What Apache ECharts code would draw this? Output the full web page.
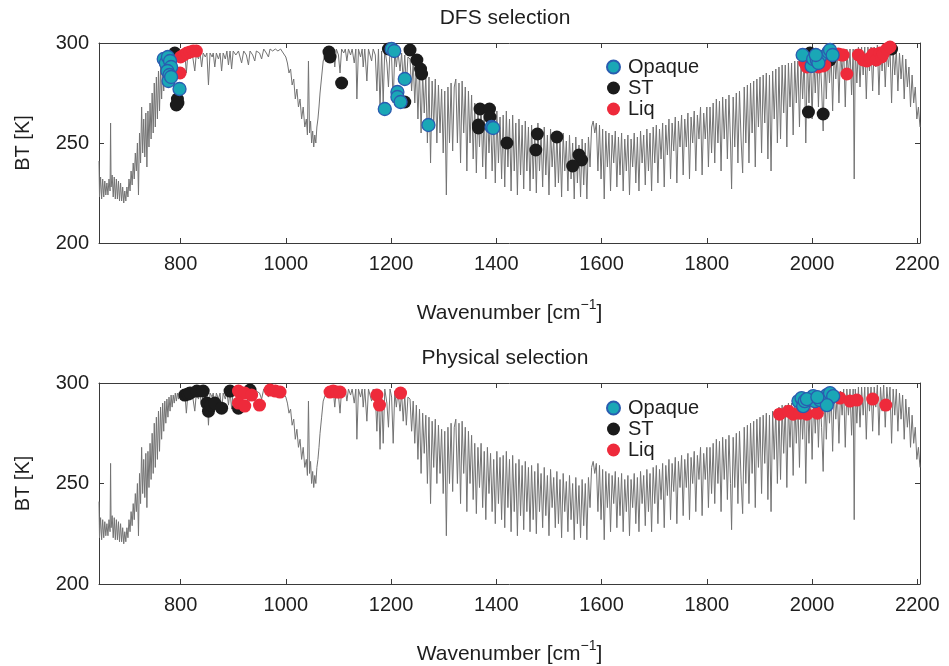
<!DOCTYPE html>
<html><head><meta charset="utf-8">
<script src="https://cdn.jsdelivr.net/npm/echarts@6/dist/echarts.min.js"></script>
<style>html,body{margin:0;padding:0;background:#fff}#c{width:949px;height:666px}</style>
</head><body><div id="c"></div>
<script>
// ---------- spectrum (shared by both panels) ----------
const specWn = [
645,646,648,650,652,654,656,658,660,662,664,666,667,668,670,672,674,676,678,680,682,684,686,688,690,692,694,696,698,700,
702,704,706,708,710,712,714,716,718,720,722,724,726,728,730,732,734,736,738,740,742,744,746,748,750,752,754,756,758,760,762,764,766,768,770,772,774,776,778,780,782,784,786,788,790,792,794,796,
798,800,804,808,811,814,818,822,827,830,834,837,840,843,847,850,853,856,860,862,865,868,872,875,878,881,885,888,891,894,897,900,905,910,916,920,925,929,932,937,941,944,950,954,958,963,967,970,975,980,985,990,995,1000,
1003,1006,1009,1012,1015,1018,1021,1024,1027,1030,1033,1036,1039,1041,1043,1045,1047,1049,1051,1053,1055,1057,1059,1061,1063,1065,1068,1071,1075,1078,
1080,1084,1087,1090,1093,1096,1100,1103,1106,1110,1113,1116,1119,1123,1126,1130,1133,1135,1138,1142,1145,1147,1150,1154,1157,1160,1163,1166,1170,1173,1176,1179,1182,1185,1188,1192,1195,1198,1201,1204,1207,1210,1213,1217,1220,1223,1226,1229,1232,
1236,1239,1242,1245,1248,1251,1254,1257,1260,1263,1266,1269,1272,1275,1278,1281,1284,1287,1290,1293,1296,1299,1302,1305,1308,1311,1314,1317,1320,
1323,1326,1329,1332,1335,1338,1341,1344,1347,1350,1353,1356,1359,1362,1365,1368,1371,1374,1377,1380,1383,1386,1389,1392,1395,1398,1401,1404,1407,1410,
1413,1416,1419,1422,1425,1428,1431,1434,1437,1440,1443,1446,1449,1452,1455,1458,1461,1464,1467,1470,1473,1476,1479,1482,1485,1488,1491,1494,1497,1500,
1503,1506,1509,1512,1515,1518,1521,1524,1527,1530,1533,1536,1539,1542,1545,1548,1551,1554,1557,1560,1563,1566,1569,1572,1575,1578,
1581,1584,1587,1590,1593,1596,1599,1602,1605,1608,1611,1614,1617,1620,1623,1626,1629,1632,1635,1638,1641,1644,1647,1650,1653,1656,1659,1662,1665,1668,1671,1674,1677,1680,1683,1686,1689,1692,1695,1698,
1701,1704,1707,1710,1713,1716,1719,1722,1725,1728,1731,1734,1737,1740,1743,1746,1749,1752,1755,1758,1761,1764,1767,1770,1773,1776,1779,1782,1785,1788,1791,1794,1797,1800,1803,1806,
1809,1812,1815,1818,1821,1824,1827,1830,1833,1836,1839,1842,1845,1847,1850,1853,1856,1859,1862,1865,1868,1871,
1874,1877,1880,1883,1886,1889,1892,1895,1898,1901,1904,1907,1910,1913,1916,1919,1922,1925,1928,1931,1934,1937,1940,1943,1946,1949,1952,1955,1958,1961,1964,1967,1970,1973,1976,1979,1982,1985,1988,1991,1994,1997,
2000,2003,2006,2009,2012,2015,2018,2021,2024,2027,2030,2033,2036,2039,2042,2045,2048,2051,2054,2057,2060,2063,2066,2069,2072,2075,2078,2080,2082,2085,
2088,2091,2094,2097,2100,2103,2106,2109,2112,2115,2118,2121,2124,2127,2130,2133,2136,2139,2142,2145,2148,2151,2154,2157,2160,2163,2166,2169,2172,2175,2178,2181,2184,2187,2190,2193,2196,2199,2202,2205
];
const specBt = [
241,223,233,222,232,223,231,224,230,224,232,226,260,228,234,223,233,222,232,222,231,221,230,221,228,220,226,221,228,223,
232,226,236,229,240,232,245,236,250,224,255,240,268,245,262,243,265,238,266,248,270,252,275,255,280,258,283,262,286,266,288,272,290,276,291,280,292,283,293,286,294,288,294,290,295,291,295,292,
294,295,293,295,285,295,292,295,286,295,292,295,288,295,293,295,279,295,293,295,288,295,292,295,286,295,292,296,289,296,287,296,294,296,290,296,294,289,296,294,291,296,295,292,297,295,293,297,296,297,296,297,295,293,
290,285,287,279,282,272,277,268,272,262,268,258,262,254,291,255,261,250,256,248,254,250,258,262,268,275,283,291,294,296,
296,297,293,297,288,297,294,285,297,295,297,291,297,294,297,290,297,272,297,293,297,288,297,281,297,294,291,297,294,276,297,267,296,270,297,290,278,297,293,270,296,288,296,286,295,281,294,279,293,
292,276,291,270,289,262,287,255,285,265,284,250,283,240,281,258,282,250,279,255,277,245,276,224,278,250,280,246,278,
282,250,280,240,281,255,278,236,276,250,274,242,270,235,268,248,270,238,266,232,268,245,265,236,262,230,266,240,263,232,
264,228,266,238,262,226,264,236,260,224,262,234,259,227,261,236,258,226,259,232,256,225,260,236,255,228,258,234,254,224,
257,238,253,228,256,230,252,223,255,236,251,226,254,232,250,222,253,230,249,223,252,229,250,222,253,238,
258,261,255,260,236,259,232,257,222,256,238,255,226,254,240,256,228,253,234,255,226,252,236,254,224,252,238,255,230,253,226,256,240,254,229,257,236,255,226,258,
240,259,230,257,242,260,228,259,244,262,232,260,246,263,230,261,248,264,234,262,248,265,232,263,250,266,236,264,252,268,234,265,252,268,238,268,
245,270,240,272,250,271,236,273,252,272,242,274,250,227,273,248,275,240,276,252,235,278,
250,279,240,280,255,281,238,282,258,283,245,284,260,285,242,284,236,286,262,287,250,288,252,289,265,289,248,290,268,290,254,291,270,291,258,292,272,293,250,293,270,294,
262,294,275,295,268,295,278,256,295,272,296,280,296,266,296,282,296,270,296,284,297,268,297,284,297,274,297,232,297,280,
298,278,298,284,298,272,298,286,298,276,298,288,299,274,298,286,299,278,298,288,298,270,297,284,297,276,295,282,294,272,292,278,288,268,284,270,278,262,268,258
];

// ---------- DFS selection ----------
const dfsOpaqueWn = [768,772,776,780,782,775,779,777,782,798,1201,1206,1226,1212,1212,1218,1188,1271,1391,1394,1982,1999,2002,2009,2015,2012,2031,2034,2039,2007];
const dfsOpaqueBt = [292,290,293,291,288,286,284,281,283,277,297,296,282,275.5,273,270.5,267,259,258,257.5,294,288.5,292,291.5,293,290,295.5,296.5,294,294];
const dfsStWn = [789,794,795,792,1082,1084,1106,1195,1236,1249,1256,1258,1226,1369,1387,1388,1366,1366,1420,1478,1475,1515,1557,1562,1545,1996,1993,2021,2151,2034];
const dfsStBt = [295,272,270,269,295.5,293,280,297,296.5,291.5,287,284.5,270.5,267,267,263,259,257.5,250,254.5,246.5,253,244,241.5,238.5,295,265.5,264.5,297,291.5];
const dfsLiqWn = [800,806,812,818,824,830,799,1986,1990,2005,2012,2021,2024,2050,2056,2059,2066,2088,2097,2104,2110,2116,2122,2129,2132,2135,2142,2148];
const dfsLiqBt = [293,294,295,295.5,296,296,285,290,288,289,288,288.5,289,294.5,294,294,284.5,294,291.5,291,292.5,294.5,291.5,295,293,294.5,297,298];

// ---------- Physical selection ----------
const phyOpaqueWn = [1974,1980,1983,1986,2002,2005,2015,2028,2031,2034,2040,2028,1990,2010];
const phyOpaqueBt = [291,292.5,288.5,291,293.5,291,291.5,294,291.5,295,293.5,289,292,293];
const phyStWn = [808,814,818,831,843,850,853,858,865,878,894,910,932];
const phyStBt = [294,294.5,295,296,296,290,286,289,290,287.5,296,287.5,296.5];
const phyLiqWn = [910,922,935,910,922,950,970,980,989,1084,1090,1097,1103,1173,1178,1218,1938,1955,1964,1977,1990,2010,2053,2072,2085,2115,2140];
const phyLiqBt = [296,295,294,290,288.5,289,296.5,296,295.5,295.5,296,295.5,295.5,294,289,295,284.5,286,284.5,285,284.5,285,292.5,291,291.5,292,289];

// ---------- axes ----------
const xTicks = [800,1000,1200,1400,1600,1800,2000,2200];
const yTicks = [200,250,300];
const panelTitles = ['DFS selection','Physical selection'];
const legendNames = ['Opaque','ST','Liq'];

const FONT = '"Liberation Sans", Arial, Helvetica, sans-serif';
const TXT = '#1e1e1e';
const AX = '#3a3a3a';
const C_OPAQUE = '#1aa7b6', C_OPAQUE_B = '#2a5cb0', C_ST = '#1b1b1b', C_LIQ = '#ee2a3b';

function zip(a, b) { return a.map((v, i) => [v, b[i]]); }

function xAxis(grid, pos, main) {
  return {
    type: 'value', gridIndex: grid, position: pos, min: 645, max: 2205,
    axisLine: { show: true, onZero: false, lineStyle: { color: AX, width: 1 } },
    axisTick: { show: true, inside: true, length: 5, customValues: xTicks, lineStyle: { color: AX } },
    axisLabel: { show: main, customValues: xTicks, formatter: v => String(v), fontSize: 20, color: TXT, fontFamily: FONT, margin: 11 },
    splitLine: { show: false },
    name: main ? '{a|Wavenumber [cm}{s|\u22121}{a|]}' : '',
    nameLocation: 'middle', nameGap: 55,
    nameTextStyle: { rich: {
      a: { fontSize: 21, fontFamily: FONT, color: TXT, lineHeight: 26, verticalAlign: 'bottom' },
      s: { fontSize: 14, fontFamily: FONT, color: TXT, lineHeight: 14, verticalAlign: 'top' }
    } }
  };
}
function yAxis(grid, pos, main) {
  return {
    type: 'value', gridIndex: grid, position: pos, min: 200, max: 300, interval: 50,
    axisLine: { show: true, onZero: false, lineStyle: { color: AX, width: 1 } },
    axisTick: { show: true, inside: true, length: 5, lineStyle: { color: AX } },
    axisLabel: { show: main, formatter: v => String(v), fontSize: 20, color: TXT, fontFamily: FONT, margin: 10 },
    splitLine: { show: false },
    name: main ? 'BT [K]' : '', nameLocation: 'middle', nameGap: 66, nameRotate: 90,
    nameTextStyle: { fontSize: 20, color: TXT, fontFamily: FONT }
  };
}
function panelSeries(axisIdx, stW, stB, liqW, liqB, opW, opB) {
  return [
    { type: 'line', name: 'spectrum', xAxisIndex: axisIdx, yAxisIndex: axisIdx,
      data: zip(specWn, specBt), showSymbol: false, symbol: 'none', silent: true,
      lineStyle: { color: '#737373', width: 1 }, z: 1 },
    { type: 'scatter', name: 'ST', xAxisIndex: axisIdx, yAxisIndex: axisIdx, data: zip(stW, stB),
      symbolSize: 13, itemStyle: { color: C_ST, opacity: 1 }, z: 2 },
    { type: 'scatter', name: 'Liq', xAxisIndex: axisIdx, yAxisIndex: axisIdx, data: zip(liqW, liqB),
      symbolSize: 13, itemStyle: { color: C_LIQ, opacity: 1 }, z: 3 },
    { type: 'scatter', name: 'Opaque', xAxisIndex: axisIdx, yAxisIndex: axisIdx, data: zip(opW, opB),
      symbolSize: 13, itemStyle: { color: C_OPAQUE, borderColor: C_OPAQUE_B, borderWidth: 1.3, opacity: 1 }, z: 4 }
  ];
}
function legend(top) {
  return {
    data: legendNames, orient: 'vertical', left: 601, top: top, itemWidth: 13, itemHeight: 13, itemGap: 1,
    icon: 'circle', selectedMode: false,
    textStyle: { fontSize: 20, color: TXT, fontFamily: FONT, padding: [0, 0, 0, 3] }
  };
}

const chart = echarts.init(document.getElementById('c'));
chart.setOption({
  animation: false,
  backgroundColor: '#fff',
  grid: [
    { left: 99, right: 29, top: 43, height: 200 },
    { left: 99, right: 29, top: 383, height: 202 }
  ],
  xAxis: [xAxis(0, 'bottom', true), xAxis(0, 'top', false), xAxis(1, 'bottom', true), xAxis(1, 'top', false)],
  yAxis: [yAxis(0, 'left', true), yAxis(0, 'right', false), yAxis(1, 'left', true), yAxis(1, 'right', false)],
  legend: [legend(52), legend(393)],
  graphic: [
    { type: 'text', x: 505, y: 18, style: { text: panelTitles[0], fontSize: 21, fontFamily: FONT, fill: TXT, align: 'center', verticalAlign: 'middle' } },
    { type: 'text', x: 505, y: 358, style: { text: panelTitles[1], fontSize: 21, fontFamily: FONT, fill: TXT, align: 'center', verticalAlign: 'middle' } }
  ],
  series: [].concat(
    panelSeries(0, dfsStWn, dfsStBt, dfsLiqWn, dfsLiqBt, dfsOpaqueWn, dfsOpaqueBt),
    panelSeries(2, phyStWn, phyStBt, phyLiqWn, phyLiqBt, phyOpaqueWn, phyOpaqueBt)
  )
});
</script></body></html>
